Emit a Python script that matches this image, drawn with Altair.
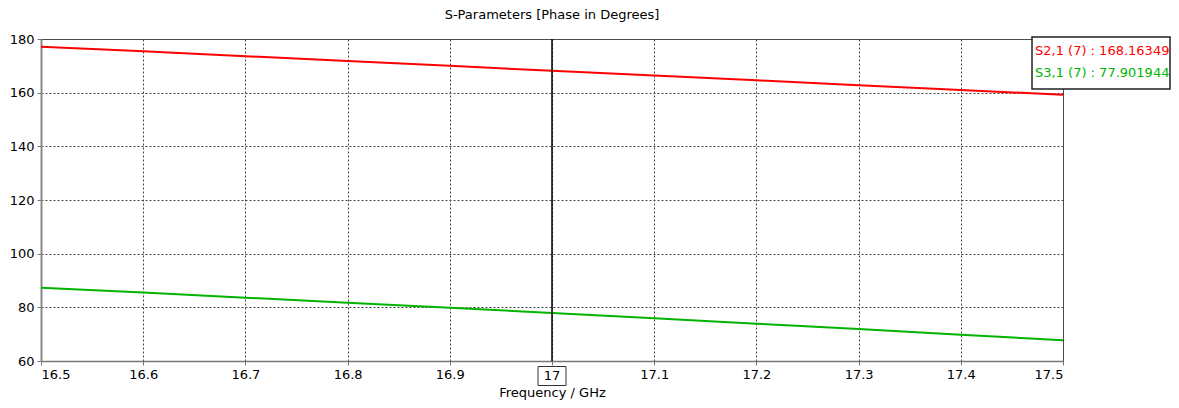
import altair as alt
import pandas as pd

freq = [16.5, 16.6, 16.7, 16.8, 16.9, 17.0, 17.1, 17.2, 17.3, 17.4, 17.5]
s21 = [177.1, 175.4, 173.6, 171.8, 170.0, 168.16349, 166.4, 164.6, 162.8, 161.0, 159.2]
s31 = [87.3, 85.5, 83.6, 81.7, 79.8, 77.901944, 75.9, 73.9, 71.9, 69.8, 67.7]
series_names = ["S2,1 (7)", "S3,1 (7)"]
series_colors = ["#ff0000", "#00b400"]
marker_freq = 17.0
marker_values = ["168.16349", "77.901944"]
x_ticks = [16.5, 16.6, 16.7, 16.8, 16.9, 17.0, 17.1, 17.2, 17.3, 17.4, 17.5]
y_ticks = [60, 80, 100, 120, 140, 160, 180]

FONT = "DejaVu Sans"
W, H = 1022, 322

rows = []
for name, vals in zip(series_names, [s21, s31]):
    for f, v in zip(freq, vals):
        rows.append({"freq": f, "value": v, "series": name})
df = pd.DataFrame(rows)

xscale = alt.Scale(domain=[16.5, 17.5], nice=False, zero=False)
yscale = alt.Scale(domain=[60, 180], nice=False, zero=False)
cscale = alt.Scale(domain=series_names, range=series_colors)

lines = alt.Chart(df).mark_line(strokeWidth=2, clip=True).encode(
    x=alt.X("freq:Q", scale=xscale,
            axis=alt.Axis(values=x_ticks, format=".1~f", title="Frequency / GHz",
                          grid=True, gridDash=[2, 2], gridColor="#444",
                          domainColor="#777", domainWidth=1.5, tickColor="#777",
                          tickSize=4, labelPadding=3, titlePadding=5,
                          labelFont=FONT, titleFont=FONT, labelFontSize=13,
                          titleFontSize=13, titleFontWeight="normal",
                          labelColor="#000", titleColor="#000")),
    y=alt.Y("value:Q", scale=yscale,
            axis=alt.Axis(values=y_ticks, title=None, grid=True, gridDash=[2, 2],
                          gridColor="#444", domainColor="#888", domainWidth=2,
                          tickColor="#777", tickSize=4, labelPadding=3,
                          labelFont=FONT, labelFontSize=13, labelColor="#000")),
    color=alt.Color("series:N", scale=cscale, legend=None),
)

mk = pd.DataFrame({"freq": [marker_freq]})
marker = alt.Chart(mk).mark_rule(color="#000", strokeWidth=1.5).encode(
    x=alt.X("freq:Q", scale=xscale)
)
marker_box = alt.Chart(mk).mark_rect(fill="white", stroke="#333", strokeWidth=1, width=28, height=19).encode(
    x=alt.X("freq:Q", scale=xscale),
    y=alt.value(H + 15),
)
marker_label = alt.Chart(mk).mark_text(font=FONT, fontSize=13, color="#000", baseline="middle").encode(
    x=alt.X("freq:Q", scale=xscale),
    y=alt.value(H + 15),
    text=alt.Text("freq:Q", format=".1~f"),
)

leg = pd.DataFrame({
    "label": [f"{n} : {v}" for n, v in zip(series_names, marker_values)],
    "series": series_names,
    "row": [0, 1],
})
legend_box = alt.Chart(pd.DataFrame({"a": [0]})).mark_rect(
    fill="white", stroke="#222", strokeWidth=1.5
).encode(x=alt.value(991), x2=alt.value(1129), y=alt.value(-2), y2=alt.value(50))
legend_text = alt.Chart(leg).mark_text(font=FONT, fontSize=13, align="left", baseline="middle").encode(
    x=alt.value(994),
    y=alt.Y("row:Q", scale=alt.Scale(domain=[0, 1], range=[12, 34]), axis=None),
    text="label:N",
    color=alt.Color("series:N", scale=cscale, legend=None),
)

chart = alt.layer(lines, marker, marker_box, marker_label, legend_box, legend_text).resolve_scale(
    y="independent"
).properties(
    width=W, height=H,
    title=alt.TitleParams("S-Parameters [Phase in Degrees]", font=FONT, fontSize=13,
                          fontWeight="normal", color="#000", offset=11),
    autosize=alt.AutoSizeParams(type="none"),
    padding={"left": 33, "top": 31, "right": 108, "bottom": 39},
).configure_view(stroke="#555", strokeWidth=1)

chart.save("out.html", embed_options={"renderer": "svg", "actions": False})
